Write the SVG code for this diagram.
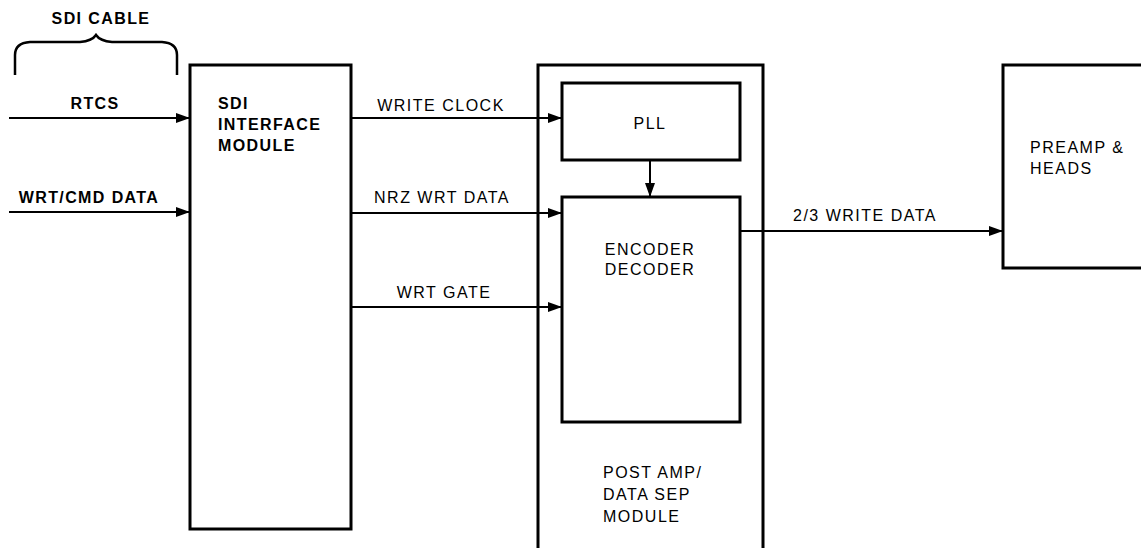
<svg xmlns="http://www.w3.org/2000/svg" width="1141" height="548" viewBox="0 0 1141 548">
<defs>
<marker id="ah" markerWidth="14" markerHeight="10" refX="14" refY="5" orient="auto" markerUnits="userSpaceOnUse">
<path d="M0,0 L14,5 L0,10 Z" fill="#000"/>
</marker>
<style>
.box{fill:none;stroke:#000;stroke-width:3}
.ln{fill:none;stroke:#000;stroke-width:2;marker-end:url(#ah)}
text{font-family:"Liberation Sans",Arial,sans-serif;font-size:16px;letter-spacing:1.5px;fill:#000}
.b{font-weight:bold;letter-spacing:1.4px}
.m{text-anchor:middle}
</style>
</defs>
<rect width="1141" height="548" fill="#fff"/>
<g id="sdi-cable">
<path d="M15,75 L15,55 Q15,43 30,42 L80,42 Q92,41 96,35 Q100,41 112,42 L162,42 Q177,43 177,55 L177,75" fill="none" stroke="#000" stroke-width="2.5"/>
<text class="b m" x="101" y="24">SDI CABLE</text>
</g>
<g id="sdi-interface">
<rect class="box" x="190" y="65" width="161" height="464"/>
<text class="b" x="218" y="109">SDI</text>
<text class="b" x="218" y="130">INTERFACE</text>
<text class="b" x="218" y="151">MODULE</text>
</g>
<g id="post-amp">
<path class="box" d="M538,548 L538,65 L763,65 L763,548"/>
<text x="603" y="478">POST AMP/</text>
<text x="603" y="500">DATA SEP</text>
<text x="603" y="522">MODULE</text>
</g>
<g id="pll">
<rect class="box" x="562" y="83" width="178" height="77"/>
<text class="m" x="650" y="129">PLL</text>
</g>
<g id="encoder">
<rect class="box" x="562" y="197" width="178" height="225"/>
<text class="m" x="650" y="255">ENCODER</text>
<text class="m" x="650" y="275">DECODER</text>
</g>
<g id="preamp">
<path class="box" d="M1141,65 L1003,65 L1003,268 L1141,268"/>
<text x="1030" y="153">PREAMP &amp;</text>
<text x="1030" y="174">HEADS</text>
</g>
<g id="connectors">
<line class="ln" x1="9" y1="118" x2="190" y2="118"/>
<text class="b m" x="95" y="109">RTCS</text>
<line class="ln" x1="9" y1="212" x2="190" y2="212"/>
<text class="b m" x="89" y="203">WRT/CMD DATA</text>
<line class="ln" x1="351" y1="118" x2="562" y2="118"/>
<text class="m" x="441" y="111">WRITE CLOCK</text>
<line class="ln" x1="351" y1="213" x2="562" y2="213"/>
<text class="m" x="442" y="203">NRZ WRT DATA</text>
<line class="ln" x1="351" y1="307" x2="562" y2="307"/>
<text class="m" x="444" y="298">WRT GATE</text>
<line class="ln" x1="650" y1="160" x2="650" y2="197"/>
<line class="ln" x1="740" y1="231" x2="1003" y2="231"/>
<text class="m" x="865" y="221">2/3 WRITE DATA</text>
</g>
</svg>
